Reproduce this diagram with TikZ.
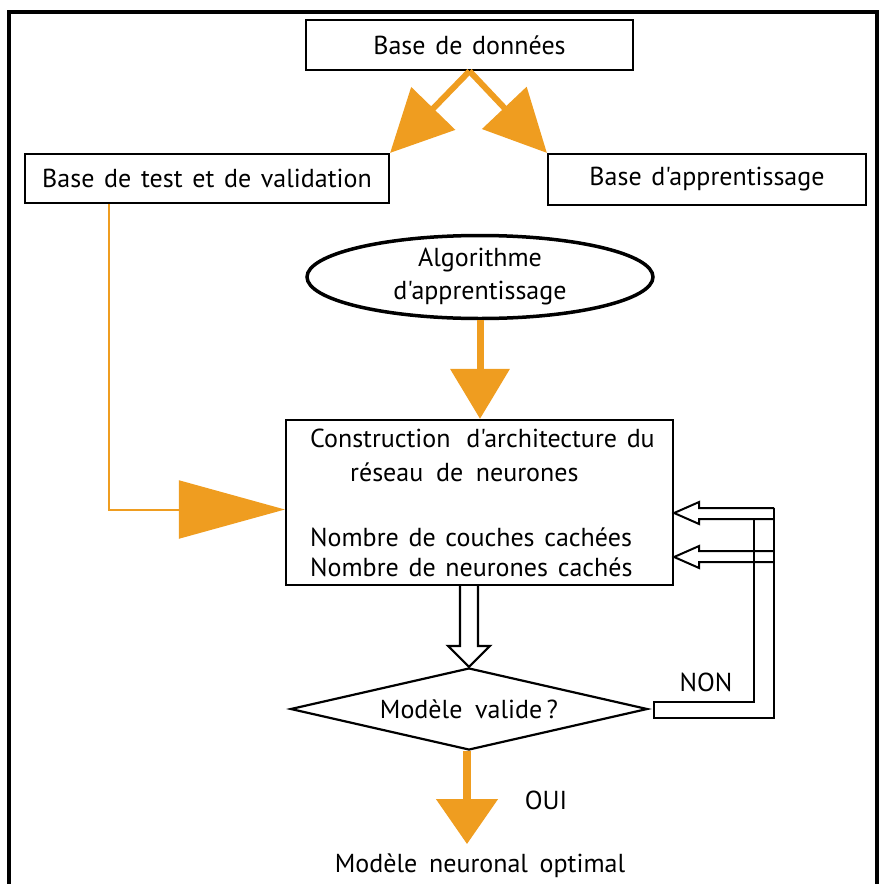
\documentclass[tikz,border=0pt]{standalone}
\usepackage{fontspec}
\setmainfont[Ligatures=TeXOff,WordSpace=1.4]{PT Sans}
\usetikzlibrary{arrows.meta,shapes.geometric,calc}
\definecolor{orng}{RGB}{239,157,32}
\begin{document}
\begin{tikzpicture}[x=1pt,y=-1pt,
  txt/.style={inner sep=0pt, font=\fontsize{26}{30}\selectfont},
  box/.style={txt, draw, line width=2.2pt},
  bigarrow/.style={draw=orng, line width=6pt, -{Triangle[length=62pt,width=60pt]}},
  thinarrow/.style={draw=orng, line width=2pt, -{Triangle[length=106pt,width=58pt]}},
  hollow/.style={draw, line width=2.2pt, fill=white, line join=miter},
]
\useasboundingbox (0,0) rectangle (880,884);

% outer frame
\draw[line width=4.5pt] (9,884) -- (9,12) -- (877,12) -- (877,884);

% boxes
\node[box, minimum width=327pt, minimum height=50pt] (db) at (469.5,45) {Base de données};
\node[box, minimum width=364pt, minimum height=49pt] (test) at (207,178.5) {Base de test et de validation};
\node[box, minimum width=318pt, minimum height=51pt] (app) at (707,179.5) {Base d'apprentissage};
\node[txt, draw, ellipse, line width=3.5pt, minimum width=346pt, minimum height=83pt,
      align=center, font=\fontsize{26}{33}\selectfont] (algo) at (480,277) {Algorithme\\d'apprentissage};
\node[draw, line width=2.2pt, minimum width=387pt, minimum height=165pt] (cons) at (479.5,502.5) {};
\node[txt, anchor=west] (c1) at (310,438) {Construction\hspace{6pt} d'architecture du};
\node[txt, anchor=west] (c2) at (350,472) {réseau\hspace{3pt} de\hspace{3pt} neurones};
\node[txt, anchor=west] (c3) at (310,537) {Nombre de couches cachées};
\node[txt, anchor=west] (c4) at (310,567) {Nombre de neurones cachés};

\node[draw, diamond, line width=2.2pt, inner sep=0pt, minimum width=357pt, minimum height=82pt] (dia) at (469,709) {};
\node[txt] (diatxt) at (dia.center) {Modèle\hspace{3pt} valide\,?};

\node[txt] (res) at (480,866) {Modèle\hspace{2pt} neuronal\hspace{2pt} optimal};
\node[txt] (oui) at (546,800) {OUI};
\node[txt] (non) at (706,682) {NON};

% orange arrows
\draw[bigarrow] (db.south) -- (test.north east);
\draw[bigarrow] (db.south) -- (app.north west);
\draw[bigarrow, line width=7pt, -{Triangle[length=50pt,width=58pt]}] (algo.south) -- (algo.south |- cons.north);
\coordinate (tstart) at ($(test.south west)+(85,0)$);
\coordinate (ctip) at ($(cons.west)+(0,7)$);
\draw[thinarrow] (tstart) |- (ctip);
\coordinate (restip) at ($(dia.south)+(-2,93)$);
\draw[bigarrow, line width=8pt, -{Triangle[length=45pt,width=60pt]}] ($(dia.south)+(-2,0)$) -- (restip);

% hollow arrow from the construction box to the decision
\draw[hollow] ($(dia.north |- cons.south)+(-9,0)$) -- ($(dia.north)+(-9,-21)$) -- ($(dia.north)+(-21,-21)$)
  -- (dia.north) -- ($(dia.north)+(21,-21)$) -- ($(dia.north)+(9,-21)$) -- ($(dia.north |- cons.south)+(9,0)$);

% hollow return path (NON)
\coordinate (t1) at (cons.east |- 0,513);
\coordinate (t2) at (cons.east |- 0,557);
\draw[hollow, fill=none, line width=2pt] ($(t1)+(100,-5)$) -- ($(t1)+(25,-5)$) -- ($(t1)+(25,-11)$) -- (t1)
  -- ($(t1)+(25,11)$) -- ($(t1)+(25,6)$) -- ($(t1)+(100,6)$);
\draw[hollow, fill=none, line width=2pt] ($(t2)+(100,-6)$) -- ($(t2)+(25,-6)$) -- ($(t2)+(25,-11)$) -- (t2)
  -- ($(t2)+(25,11)$) -- ($(t2)+(25,5)$) -- ($(t2)+(100,5)$);
\draw[hollow, fill=none, line width=2pt] ($(t1)+(100,-5)$) -- ($(t1)+(100,205)$) -- ($(dia.east)+(5,9)$)
  -- ($(dia.east)+(5,-7)$) -- ($(t1)+(80,189)$) -- ($(t1)+(80,6)$);
\end{tikzpicture}
\end{document}
